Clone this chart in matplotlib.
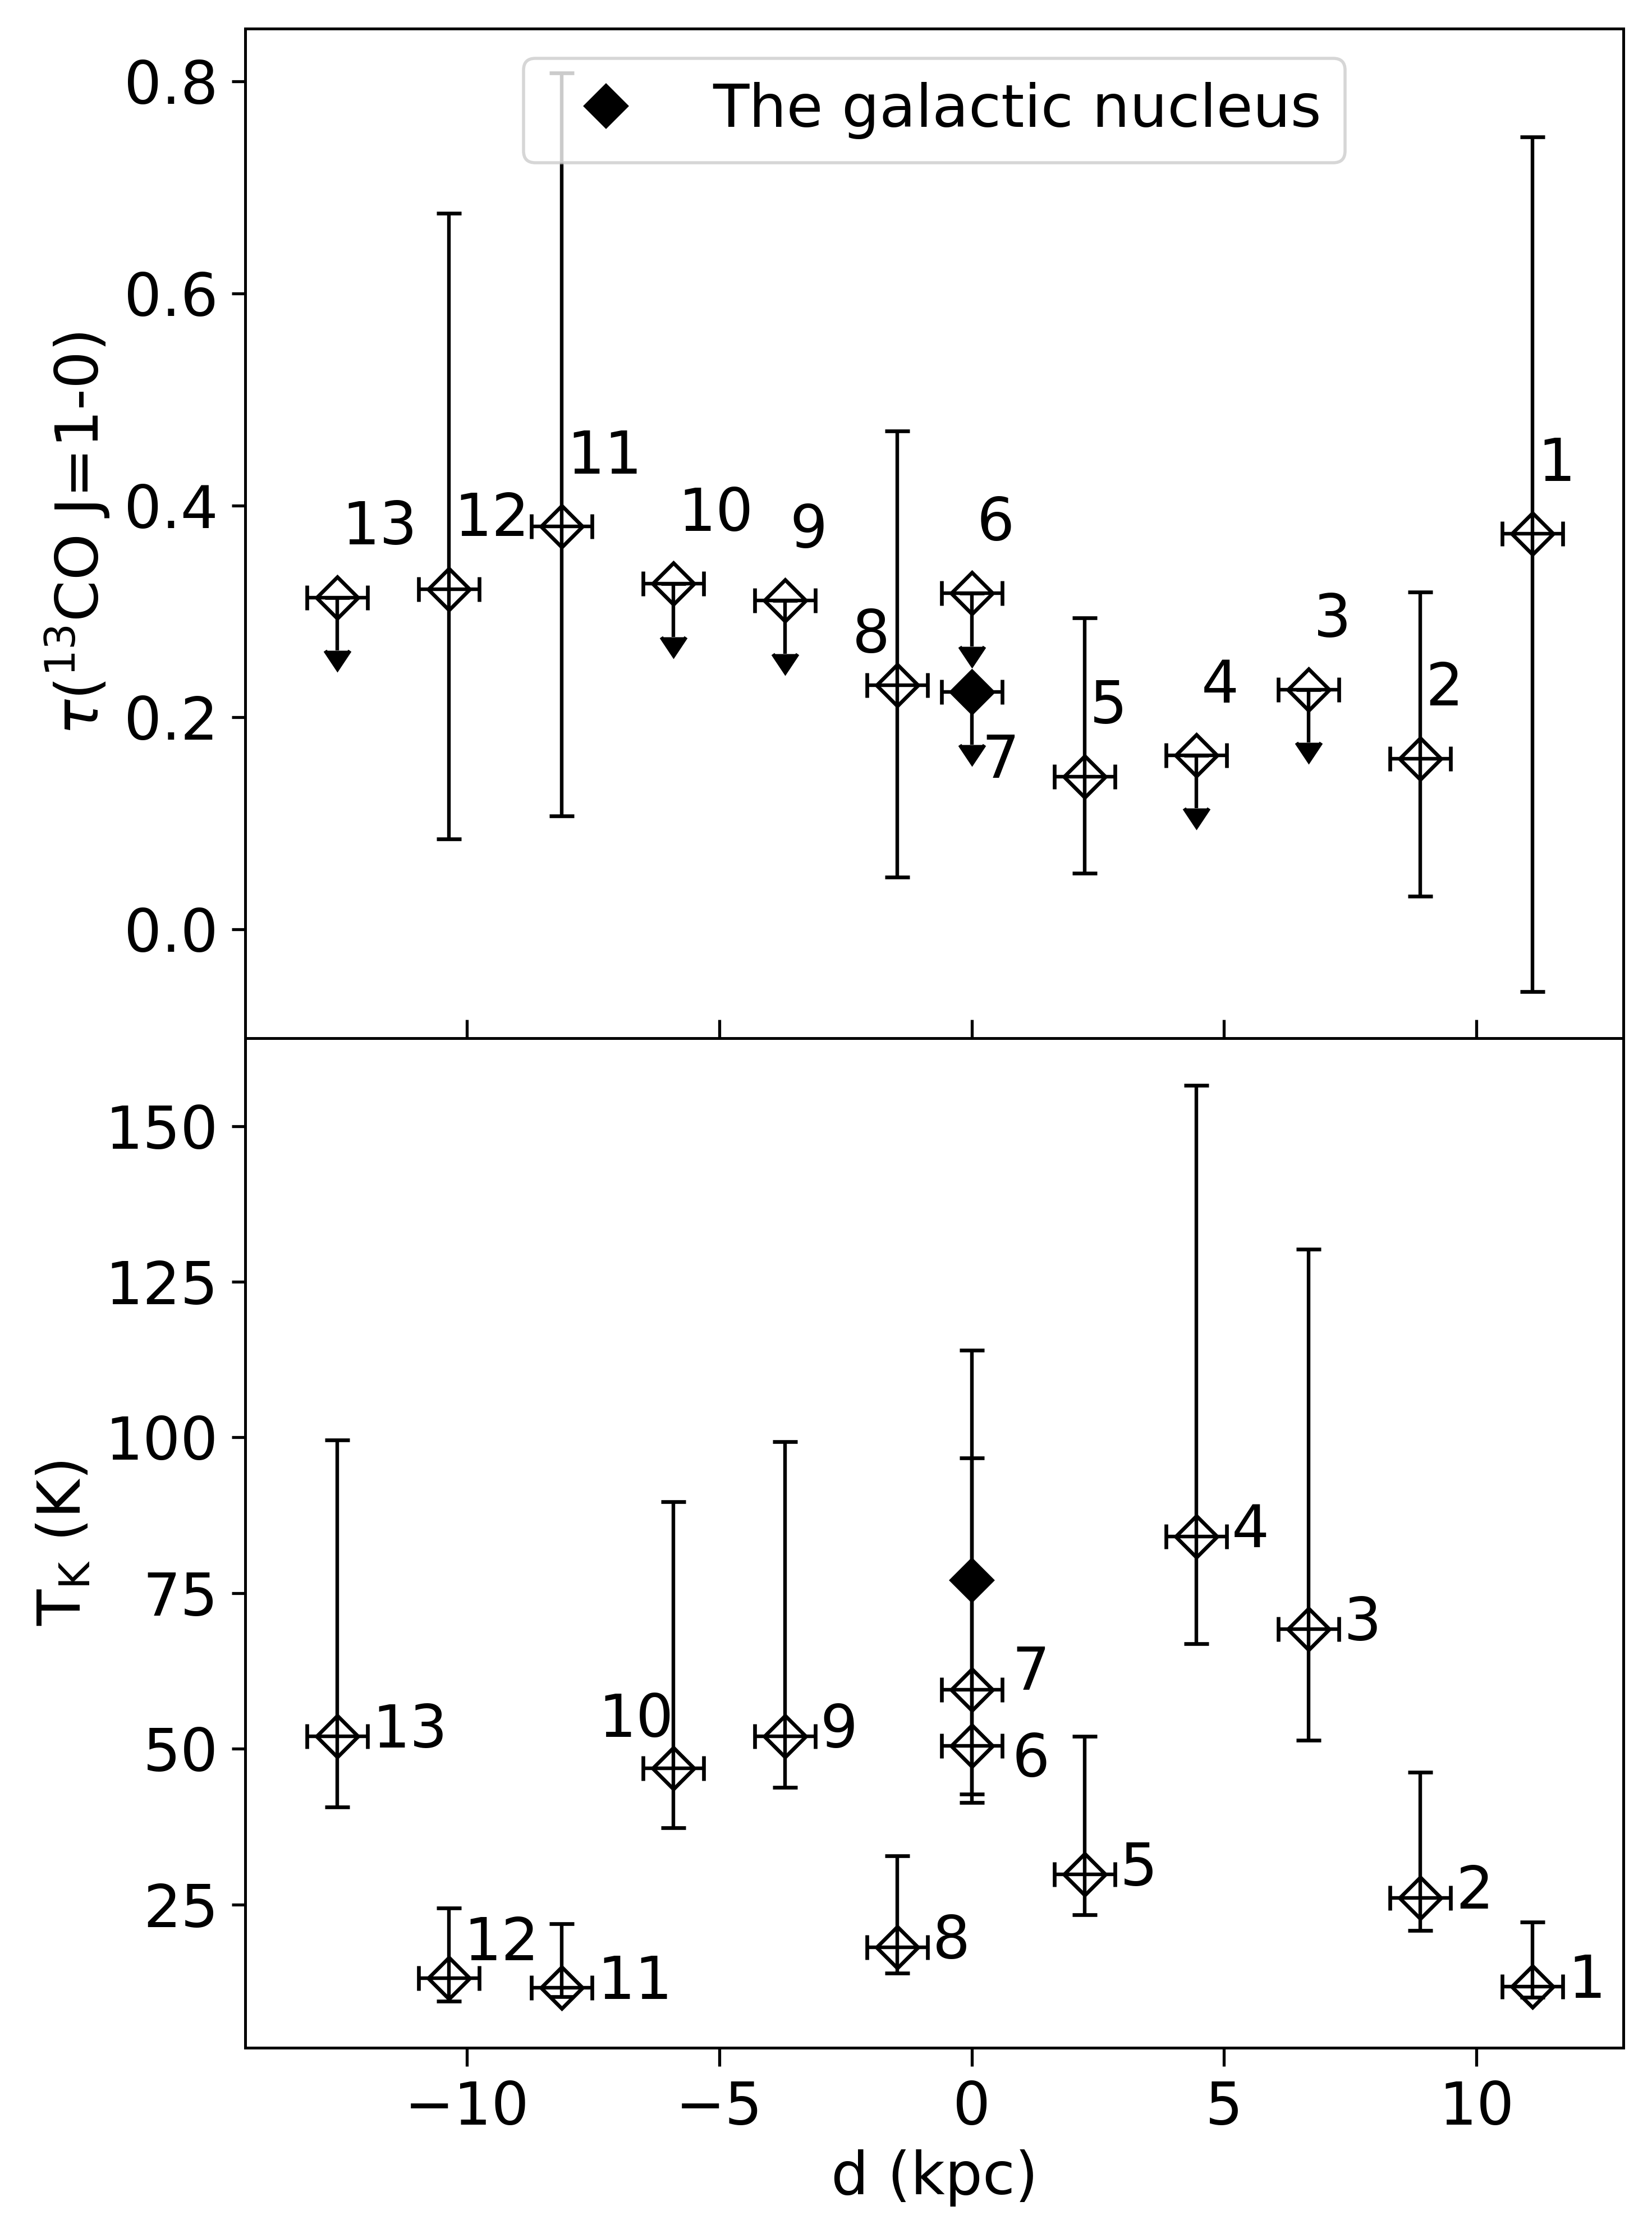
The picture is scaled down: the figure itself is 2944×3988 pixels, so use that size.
import matplotlib
matplotlib.use("Agg")
import matplotlib.pyplot as plt
import numpy as np

# sources 1..13
src = ['1', '2', '3', '4', '5', '6', '7', '8', '9', '10', '11', '12', '13']
d_kpc = [11.11, 8.89, 6.67, 4.45, 2.24, 0.0, 0.0, -1.47, -3.70, -5.91, -8.12, -10.35, -12.57]
d_err = [0.6] * 13

# tau(13CO 1-0); limit = upper limit only
tau = [0.373, 0.161, 0.226, 0.164, 0.144, 0.317, 0.224, 0.230, 0.310, 0.326, 0.380, 0.321, 0.313]
tau_hi = [0.748, 0.318, None, None, 0.294, None, None, 0.470, None, None, 0.808, 0.676, None]
tau_lo = [-0.059, 0.031, None, None, 0.053, None, None, 0.049, None, None, 0.107, 0.085, None]
tau_limit = [False, False, True, True, False, True, True, False, True, True, False, False, True]

# kinetic temperature (K)
tk = [11.8, 26.1, 69.2, 84.1, 29.8, 50.5, 59.5, 18.1, 52.0, 46.9, 11.6, 13.2, 52.0]
tk_hi = [22.2, 46.2, 130.2, 156.5, 52.0, 114.0, 96.7, 32.8, 99.3, 89.7, 21.9, 24.4, 99.6]
tk_lo = [10.1, 20.8, 51.4, 66.9, 23.4, 41.4, 42.7, 14.0, 43.8, 37.3, 10.2, 9.5, 40.7]

# galactic nucleus
nuc_d = 0.0
nuc_tau = 0.224
nuc_tk = 77.1

plt.rcParams['font.size'] = 19
plt.rcParams['axes.linewidth'] = 0.9

fig, (ax1, ax2) = plt.subplots(2, 1, sharex=True, figsize=(7.36, 9.97), dpi=400)
fig.subplots_adjust(left=0.1484, right=0.9827, top=0.9872, bottom=0.085, hspace=0)

eb = dict(fmt='D', ms=9.5, mfc='none', mec='k', mew=1.2, ecolor='k', color='k',
          elinewidth=1.15, capsize=4, capthick=1.15)

# ---- top panel ----
x = np.array(d_kpc)
t = np.array(tau)
lim = np.array(tau_limit)
arrow = 0.05
lo_err = np.array([arrow if l else v - lo for v, lo, l in zip(tau, tau_lo, tau_limit)])
hi_err = np.array([0.0 if l else hi - v for v, hi, l in zip(tau, tau_hi, tau_limit)])
ax1.errorbar(x, t, xerr=d_err, yerr=[lo_err, hi_err], uplims=lim, **eb)
ax1.plot(nuc_d, nuc_tau, 'D', ms=9.5, color='k', label='The galactic nucleus', zorder=5)

top_dx = [0.1] * 13
top_dy = [0.05] * 13
top_dx[7], top_dy[7] = -0.89, 0.031   # 8
top_dx[6], top_dy[6] = 0.2, -0.081    # 7
for i, s in enumerate(src):
    ax1.text(d_kpc[i] + top_dx[i], tau[i] + top_dy[i], s, ha='left', va='baseline')

ax1.set_ylim(-0.103, 0.85)
ax1.set_yticks([0.0, 0.2, 0.4, 0.6, 0.8])
ax1.set_ylabel(r'$\tau$($^{13}$CO J=1-0)')
ax1.legend(loc='upper center')
ax1.tick_params(axis='x', direction='in', length=6, width=0.95, labelbottom=False)
ax1.tick_params(axis='y', length=4.3, width=0.95, pad=4.3)

# ---- bottom panel ----
T = np.array(tk)
ax2.errorbar(x, T, xerr=d_err, yerr=[T - np.array(tk_lo), np.array(tk_hi) - T], **eb)
ax2.plot(nuc_d, nuc_tk, 'D', ms=9.5, color='k', zorder=5)

bot_dx = [0.7] * 13
bot_dy = [-1.76] * 13
bot_dx[9], bot_dy[9] = -1.48, 5.0     # 10
bot_dx[11], bot_dy[11] = 0.29, 2.84   # 12
bot_dx[5], bot_dy[5] = 0.8, -4.95     # 6
bot_dx[6], bot_dy[6] = 0.8, 0.0       # 7
for i, s in enumerate(src):
    ax2.text(d_kpc[i] + bot_dx[i], tk[i] + bot_dy[i], s, ha='left', va='baseline')

ax2.set_ylim(2.0, 164.1)
ax2.set_yticks([25, 50, 75, 100, 125, 150])
ax2.set_xlim(-14.39, 12.91)
ax2.set_xticks([-10, -5, 0, 5, 10])
ax2.set_ylabel(r'T$_{\rm K}$ (K)')
ax2.set_xlabel('d (kpc)')
ax2.tick_params(axis='x', length=6, width=0.95, pad=4.3)
ax2.tick_params(axis='y', length=4.3, width=0.95, pad=4.3)

fig.savefig('out.png', dpi=400)
